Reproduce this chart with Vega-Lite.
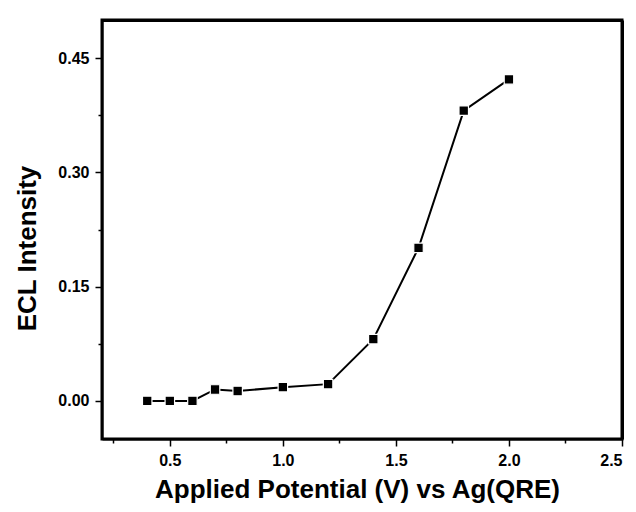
{
  "$schema": "https://vega.github.io/schema/vega-lite/v6.json",
  "autosize": "none",
  "width": 520,
  "height": 419,
  "padding": {"left": 102, "top": 20, "right": 14, "bottom": 73},
  "background": "white",
  "data": {
    "values": [
      {"potential": 0.4, "intensity": 0.0},
      {"potential": 0.5, "intensity": 0.0},
      {"potential": 0.6, "intensity": 0.0},
      {"potential": 0.7, "intensity": 0.015},
      {"potential": 0.8, "intensity": 0.013},
      {"potential": 1.0, "intensity": 0.018},
      {"potential": 1.2, "intensity": 0.022},
      {"potential": 1.4, "intensity": 0.081},
      {"potential": 1.6, "intensity": 0.201},
      {"potential": 1.8, "intensity": 0.381},
      {"potential": 2.0, "intensity": 0.422}
    ]
  },
  "layer": [
    {
      "mark": {"type": "point", "opacity": 0},
      "encoding": {
        "x": {
          "field": "potential", "type": "quantitative",
          "scale": {"domain": [0.2, 2.5], "nice": false, "zero": false},
          "axis": {"orient": "top", "labels": false, "ticks": false, "title": null, "domain": true, "domainColor": "black", "domainWidth": 3}
        },
        "y": {
          "field": "intensity", "type": "quantitative",
          "scale": {"domain": [-0.05, 0.5], "nice": false, "zero": false},
          "axis": {"orient": "right", "labels": false, "ticks": false, "title": null, "domain": true, "domainColor": "black", "domainWidth": 3}
        }
      }
    },
    {
      "mark": {"type": "line", "color": "black", "strokeWidth": 2},
      "encoding": {
        "x": {
          "field": "potential", "type": "quantitative",
          "scale": {"domain": [0.2, 2.5], "nice": false, "zero": false},
          "axis": {
            "orient": "bottom",
            "values": [0.5, 1.0, 1.5, 2.0, 2.5],
            "format": ".1f",
            "tickSize": 7,
            "labelPadding": 6,
            "title": "Applied Potential (V) vs Ag(QRE)",
            "titleX": 255,
            "titleY": 58,
            "titleAlign": "center",
            "titleBaseline": "alphabetic",
            "titleAngle": 0
          }
        },
        "y": {
          "field": "intensity", "type": "quantitative",
          "scale": {"domain": [-0.05, 0.5], "nice": false, "zero": false},
          "axis": {
            "orient": "left",
            "values": [0, 0.15, 0.3, 0.45],
            "format": ".2f",
            "tickSize": 7,
            "labelPadding": 6,
            "title": "ECL Intensity",
            "titleAngle": -90,
            "titleX": -67,
            "titleY": 228,
            "titleAlign": "center",
            "titleBaseline": "alphabetic"
          }
        }
      }
    },
    {
      "mark": {"type": "point", "shape": "square", "filled": true, "color": "black", "size": 90, "stroke": "white", "strokeWidth": 1.2, "opacity": 1},
      "encoding": {
        "x": {
          "field": "potential", "type": "quantitative",
          "scale": {"domain": [0.2, 2.5], "nice": false, "zero": false},
          "axis": {
            "orient": "bottom",
            "values": [0.25, 0.75, 1.25, 1.75, 2.25],
            "labels": false,
            "domain": false,
            "tickSize": 4,
            "title": null
          }
        },
        "y": {
          "field": "intensity", "type": "quantitative",
          "scale": {"domain": [-0.05, 0.5], "nice": false, "zero": false},
          "axis": {
            "orient": "left",
            "values": [0.075, 0.225, 0.375],
            "labels": false,
            "domain": false,
            "tickSize": 4,
            "title": null
          }
        }
      }
    }
  ],
  "resolve": {"axis": {"x": "independent", "y": "independent"}},
  "config": {
    "view": {"stroke": "black", "strokeWidth": 3},
    "axis": {
      "grid": false,
      "domainColor": "black",
      "domainWidth": 2,
      "tickColor": "black",
      "tickWidth": 1.5,
      "labelFont": "Liberation Sans",
      "labelFontSize": 16,
      "labelFontWeight": "bold",
      "labelColor": "black",
      "titleFont": "Liberation Sans",
      "titleFontSize": 26,
      "titleFontWeight": "bold",
      "titleColor": "black"
    }
  }
}
